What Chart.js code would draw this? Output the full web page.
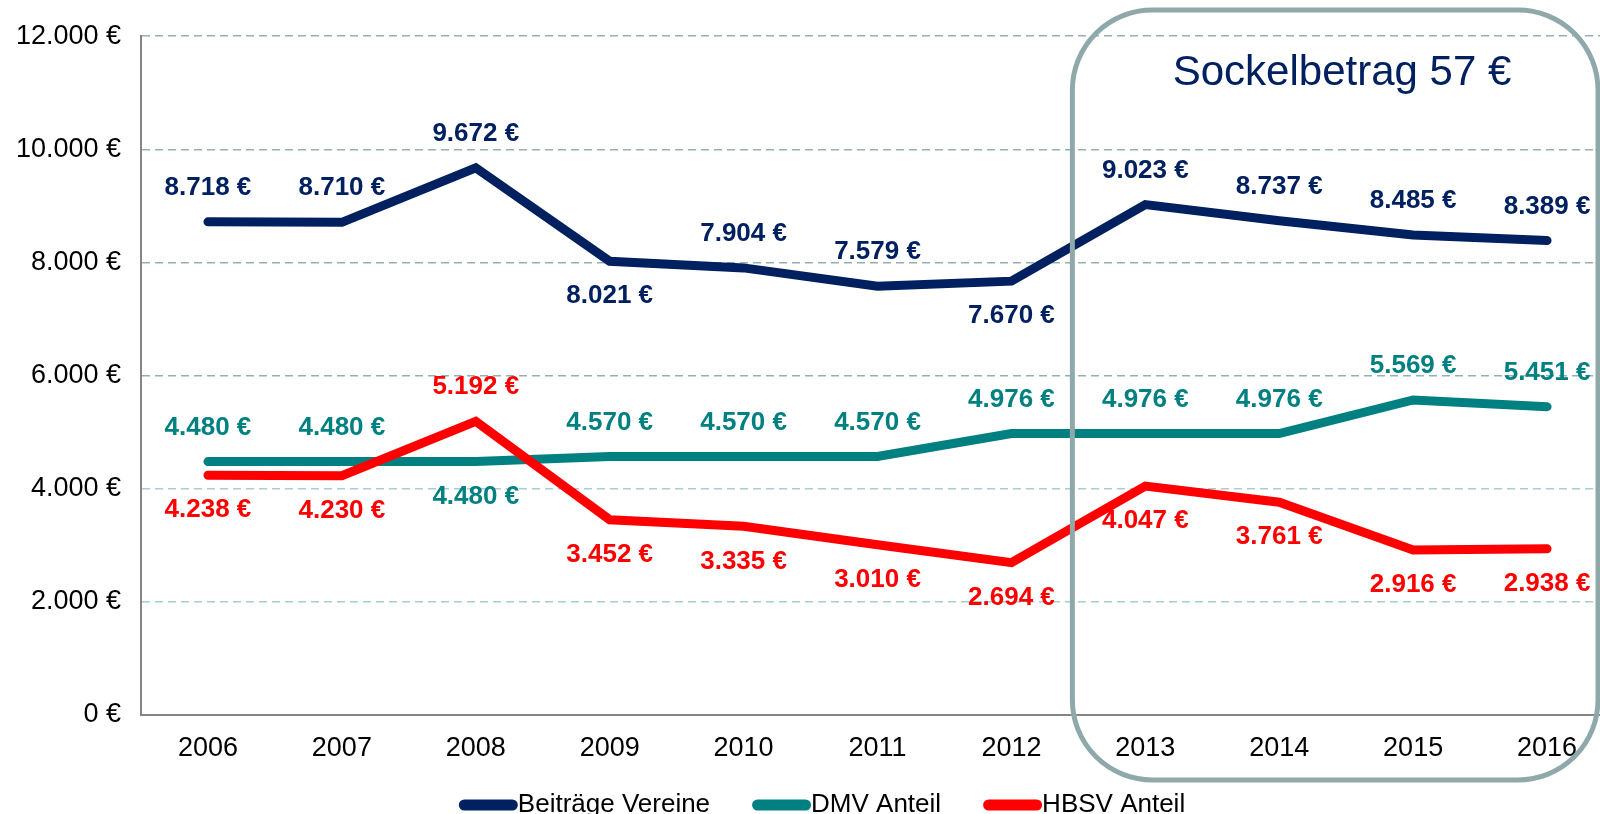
<!DOCTYPE html>
<html>
<head>
<meta charset="utf-8">
<script src="https://cdn.jsdelivr.net/npm/chart.js@4.4.1/dist/chart.umd.min.js"></script>
<style>
    html, body { margin: 0; padding: 0; background: #fff; overflow: hidden; }
    #wrap { width: 1614px; height: 824px; }
</style>
</head>
<body>
<div id="wrap"><canvas id="chart" width="1614" height="824"></canvas></div>
<script>
// ---- data ----
const years = ['2006', '2007', '2008', '2009', '2010', '2011', '2012', '2013', '2014', '2015', '2016'];
const beitraege = [8718, 8710, 9672, 8021, 7904, 7579, 7670, 9023, 8737, 8485, 8389];
const dmvAnteil = [4480, 4480, 4480, 4570, 4570, 4570, 4976, 4976, 4976, 5569, 5451];
const hbsvAnteil = [4238, 4230, 5192, 3452, 3335, 3010, 2694, 4047, 3761, 2916, 2938];

// where each value label sits relative to its point
const beitraegePos = ['up', 'up', 'up', 'down', 'up', 'up', 'down', 'up', 'up', 'up', 'up'];
const dmvPos = ['up', 'up', 'down', 'up', 'up', 'up', 'up', 'up', 'up', 'up', 'up'];
const hbsvPos = ['down', 'down', 'up', 'down', 'down', 'down', 'down', 'down', 'down', 'down', 'down'];

const yTicks = [0, 2000, 4000, 6000, 8000, 10000, 12000];
const boxLabel = 'Sockelbetrag 57 €';

const FONT = '"Liberation Sans", Arial, sans-serif';
const NAVY = '#002060';
const TEAL = '#008080';
const RED = '#ff0000';

const euro = v => String(v).replace(/\B(?=(\d{3})+(?!\d))/g, '.') + ' €';

// value labels above / below the points
const valueLabels = {
    id: 'valueLabels',
    afterDatasetsDraw(chart) {
        const ctx = chart.ctx;
        ctx.save();
        ctx.font = 'bold 26px ' + FONT;
        ctx.textAlign = 'center';
        ctx.textBaseline = 'middle';
        chart.data.datasets.forEach((ds, i) => {
            const meta = chart.getDatasetMeta(i);
            ctx.fillStyle = ds.borderColor;
            meta.data.forEach((pt, j) => {
                const dy = ds.labelPos[j] === 'up' ? -34 : 35;
                ctx.fillText(euro(ds.data[j]), pt.x, pt.y + dy);
            });
        });
        ctx.restore();
    }
};

// rounded frame around 2013-2016
const sockelBox = {
    id: 'sockelBox',
    afterDraw(chart) {
        const ctx = chart.ctx;
        const x = chart.scales.x;
        const left = (x.getPixelForValue(6) + x.getPixelForValue(7)) / 2 - 6;
        const right = 1598, top = 10, bottom = 780, r = 80;
        ctx.save();
        ctx.strokeStyle = '#8fa9aa';
        ctx.lineWidth = 5;
        ctx.beginPath();
        ctx.roundRect(left, top, right - left, bottom - top, r);
        ctx.stroke();
        ctx.fillStyle = NAVY;
        ctx.font = '42px ' + FONT;
        ctx.textAlign = 'center';
        ctx.textBaseline = 'middle';
        ctx.fillText(boxLabel, 1342, 73);
        ctx.restore();
    }
};

// legend with thick line markers, text right after the marker
const lineLegend = {
    id: 'lineLegend',
    afterDraw(chart) {
        const ctx = chart.ctx;
        const sets = chart.data.datasets;
        const mark = 59, gap = 42, y = 805;
        ctx.save();
        ctx.font = '26px ' + FONT;
        ctx.textBaseline = 'middle';
        const widths = sets.map(ds => mark + ctx.measureText(ds.label).width);
        const total = widths.reduce((a, b) => a + b, 0) + gap * (sets.length - 1);
        let cx = 822 - total / 2;
        sets.forEach((ds, i) => {
            ctx.fillStyle = ds.borderColor;
            ctx.beginPath();
            ctx.roundRect(cx, y - 5.5, mark, 11, 5.5);
            ctx.fill();
            ctx.fillStyle = '#000';
            ctx.fillText(ds.label, cx + mark, y);
            cx += widths[i] + gap;
        });
        ctx.restore();
    }
};

const lineStyle = { borderWidth: 9, borderCapStyle: 'round', borderJoinStyle: 'miter', pointRadius: 0, tension: 0, fill: false };

new Chart(document.getElementById('chart'), {
    type: 'line',
    data: {
        labels: years,
        datasets: [
            { label: 'Beiträge Vereine', data: beitraege, labelPos: beitraegePos, borderColor: NAVY, order: 1, ...lineStyle },
            { label: 'DMV Anteil', data: dmvAnteil, labelPos: dmvPos, borderColor: TEAL, order: 2, ...lineStyle },
            { label: 'HBSV Anteil', data: hbsvAnteil, labelPos: hbsvPos, borderColor: RED, order: 0, ...lineStyle },
        ]
    },
    options: {
        responsive: false,
        animation: false,
        devicePixelRatio: 1,
        layout: { padding: { top: 36, right: 0, bottom: 0, left: 0 } },
        plugins: { legend: { display: false }, tooltip: { enabled: false } },
        scales: {
            x: {
                offset: true,
                grid: { display: false, drawTicks: false },
                border: { color: '#858585', width: 2 },
                ticks: { color: '#000', padding: 17, font: { family: FONT, size: 27 }, maxRotation: 0 },
                afterFit: s => { s.height = 109; }
            },
            y: {
                min: 0, max: 12000,
                afterBuildTicks: s => { s.ticks = yTicks.map(v => ({ value: v })); },
                grid: {
                    drawTicks: false,
                    color: c => c.tick.value === 0 ? 'rgba(0,0,0,0)' : (c.tick.value <= 4000 ? '#a6ccd4' : '#93b0b2'),
                    lineWidth: 1.5
                },
                border: { color: '#858585', width: 2, dash: [8, 5], dashOffset: 0 },
                ticks: { color: '#000', padding: 20, font: { family: FONT, size: 27 }, callback: v => euro(v) },
                afterFit: s => { s.width = 141; }
            }
        }
    },
    plugins: [valueLabels, sockelBox, lineLegend]
});
</script>
</body>
</html>
